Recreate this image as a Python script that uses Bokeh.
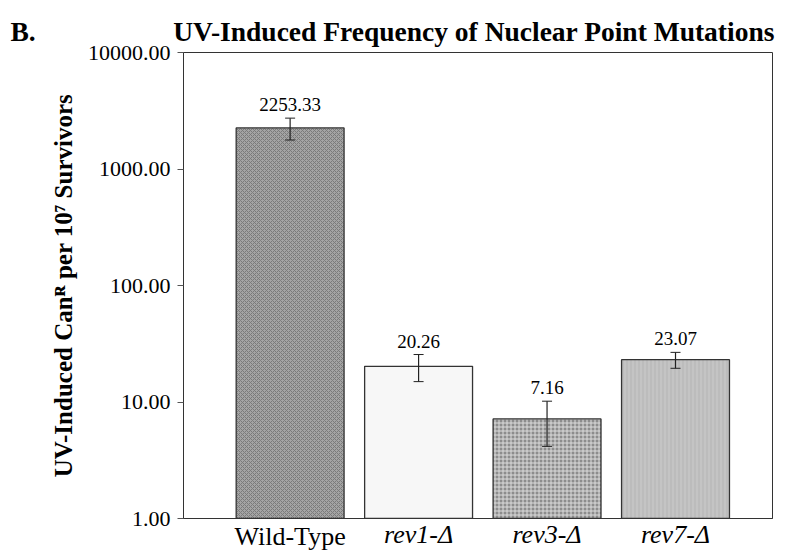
from bokeh.plotting import figure
from bokeh.models import Range1d, FixedTicker, ColumnDataSource, Whisker, Title, LinearAxis
from bokeh.embed import file_html
from bokeh.resources import INLINE

categories = ["Wild-Type", "rev1-Δ", "rev3-Δ", "rev7-Δ"]
italic = [False, True, True, True]
values = [2253.33, 20.26, 7.16, 23.07]
errors = [480.0, 5.3, 3.0, 3.6]
value_labels = ["2253.33", "20.26", "7.16", "23.07"]
y_ticks = [1, 10, 100, 1000, 10000]
y_tick_labels = ["1.00", "10.00", "100.00", "1000.00", "10000.00"]
fills = ["#a4a4a4", "#f7f7f7", "#8c8c8c", "#c4c4c4"]
hatches = ["diagonal_cross", "blank", "cross", "vertical_line"]
hatch_colors = ["#7a7a7a", "#f7f7f7", "#dddddd", "#b4b4b4"]
panel_letter = "B."
title_text = "UV-Induced Frequency of Nuclear Point Mutations"

FONT = "Liberation Serif"

xs = list(range(len(categories)))
src = ColumnDataSource(dict(
    x=xs, top=values, bottom=[1] * len(values),
    upper=[v + e for v, e in zip(values, errors)],
    lower=[v - e for v, e in zip(values, errors)],
    lab=value_labels, fill=fills, hatch=hatches, hcol=hatch_colors,
))

p = figure(width=792, height=560, output_backend="svg", toolbar_location=None,
           y_axis_type="log", x_range=Range1d(-0.83, 3.755), y_range=Range1d(1, 10000),
           min_border_left=183, min_border_right=20, min_border_top=52, min_border_bottom=42)
p.title = Title(text=panel_letter + "\u00a0" * 20 + title_text, align="left", offset=-173,
                text_font=FONT, text_font_size="27.5px", text_font_style="bold",
                text_color="black", standoff=11)

p.vbar(x="x", top="top", bottom="bottom", width=0.84, source=src,
       fill_color="fill", line_color="#333333", line_width=1.3,
       hatch_pattern="hatch", hatch_color="hcol", hatch_scale=4, hatch_weight=1)

w = Whisker(base="x", upper="upper", lower="lower", source=src,
            line_color="#222222", line_width=1.2, level="overlay")
w.upper_head.size = 10
w.lower_head.size = 10
w.upper_head.line_color = "#222222"
w.lower_head.line_color = "#222222"
p.add_layout(w)

p.text(x="x", y="upper", text="lab", source=src, text_align="center",
       text_baseline="bottom", y_offset=-7, text_font_size="19px",
       text_font={"value": FONT}, text_color="black")

p.xgrid.visible = False
p.ygrid.visible = False
p.outline_line_color = "#333333"
p.outline_line_width = 1

# upright category labels
up_ticks = [i for i, it in enumerate(italic) if not it]
it_ticks = [i for i, it in enumerate(italic) if it]
xa = p.xaxis[0]
xa.ticker = FixedTicker(ticks=up_ticks, minor_ticks=[])
xa.major_label_overrides = {i: categories[i] for i in up_ticks}
xa.major_tick_line_color = None
xa.major_tick_out = 0
xa.major_tick_in = 0
xa.major_label_standoff = 3
xa.major_label_text_font = FONT
xa.major_label_text_font_size = "26px"
xa.major_label_text_color = "black"
xa.axis_line_color = "#333333"

# italic category labels
xb = LinearAxis(ticker=FixedTicker(ticks=it_ticks, minor_ticks=[]),
                major_label_overrides={i: categories[i] for i in it_ticks},
                major_tick_line_color=None, axis_line_color=None,
                major_tick_out=0, major_tick_in=0,
                major_label_standoff=-34, major_label_text_font=FONT,
                major_label_text_font_size="26px", major_label_text_font_style="italic",
                major_label_text_color="black")
p.add_layout(xb, "below")

p.yaxis.ticker = FixedTicker(ticks=y_ticks, minor_ticks=[])
p.yaxis.major_label_overrides = {t: l for t, l in zip(y_ticks, y_tick_labels)}
p.yaxis.major_label_text_font = FONT
p.yaxis.major_label_text_font_size = "22px"
p.yaxis.major_label_text_color = "black"
p.yaxis.major_tick_out = 6
p.yaxis.major_tick_in = 0
p.yaxis.major_label_standoff = 7
p.yaxis.axis_line_color = "#333333"
p.yaxis.major_tick_line_color = "#555555"
p.yaxis.axis_label = "UV-Induced Canᴿ per 10⁷ Survivors"
p.yaxis.axis_label_text_font = FONT
p.yaxis.axis_label_text_font_size = "25px"
p.yaxis.axis_label_text_font_style = "bold"
p.yaxis.axis_label_text_color = "black"
p.yaxis.axis_label_standoff = 8

open("out.html", "w").write(file_html(p, INLINE))
